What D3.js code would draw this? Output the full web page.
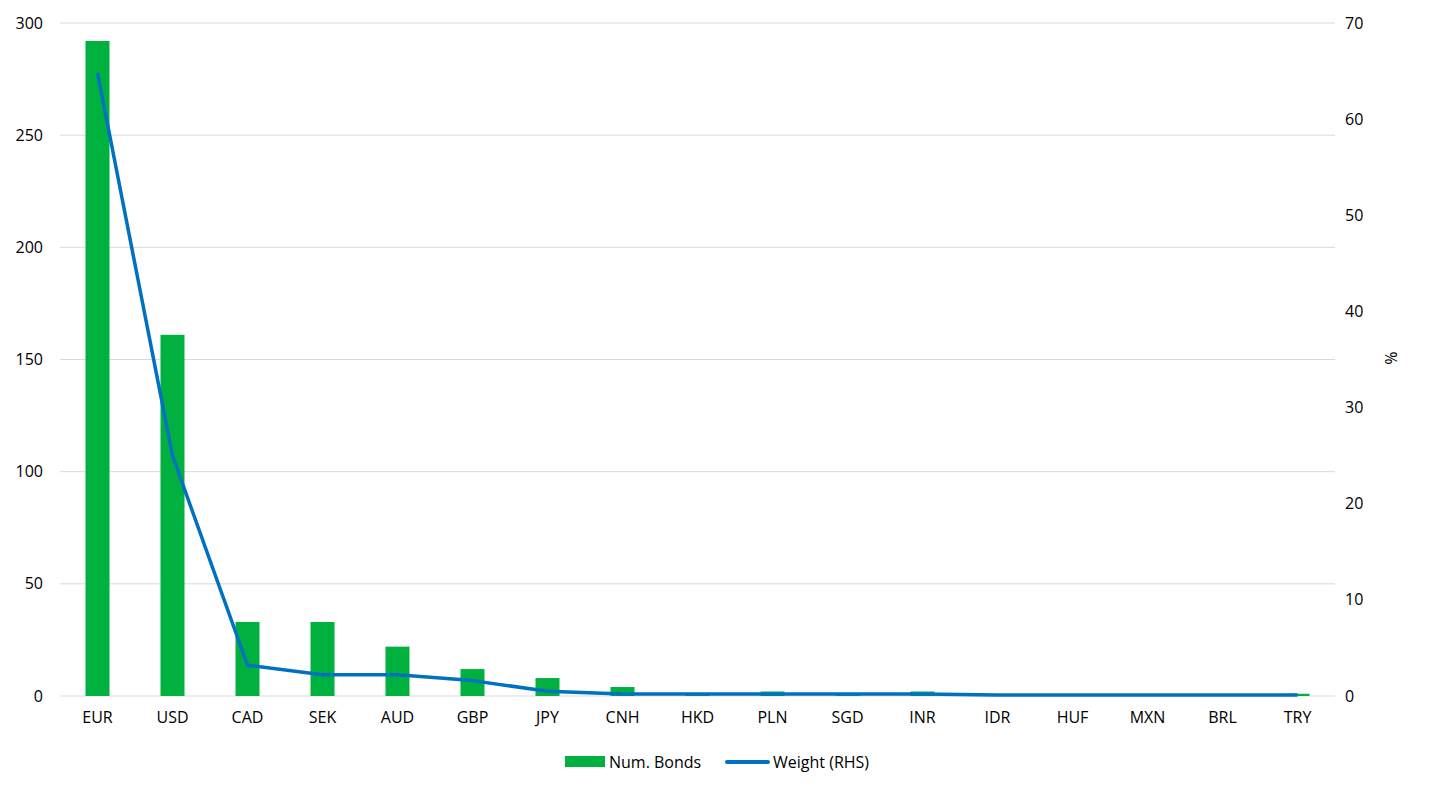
<!DOCTYPE html>
<html>
<head>
<meta charset="utf-8">
<script src="https://cdn.jsdelivr.net/npm/d3@7"></script>
<style>
body { margin: 0; background: #fff; }
text { font-family: "Open Sans", "Liberation Sans", sans-serif; fill: #000; }
</style>
</head>
<body>
<script>
// data
var currencies = ["EUR","USD","CAD","SEK","AUD","GBP","JPY","CNH","HKD","PLN","SGD","INR","IDR","HUF","MXN","BRL","TRY"];
var numBonds = [292,161,33,33,22,12,8,4,1,2,1,2,0,0,0,0,1];
var weightPct = [64.8,25.0,3.2,2.2,2.2,1.6,0.5,0.2,0.2,0.2,0.2,0.2,0.1,0.1,0.1,0.1,0.1];
var leftTicks = [0,50,100,150,200,250,300];
var rightTicks = [0,10,20,30,40,50,60,70];

var W = 1430, H = 793;
var margin = {top: 23, right: 95, bottom: 97, left: 60},
    width = W - margin.left - margin.right,
    height = H - margin.top - margin.bottom;

var svg = d3.select("body").append("svg")
    .attr("width", W)
    .attr("height", H);

var g = svg.append("g")
    .attr("transform", "translate(" + margin.left + "," + margin.top + ")");

var x = d3.scaleBand().domain(currencies).range([0, width]).paddingInner(0.68).paddingOuter(0.34);
var yL = d3.scaleLinear().domain([0, 300]).range([height, 0]);
var yR = d3.scaleLinear().domain([0, 70]).range([height, 0]);

// gridlines
g.selectAll(".grid").data(leftTicks).enter().append("line")
    .attr("x1", 0).attr("x2", width)
    .attr("y1", function(d){ return yL(d); })
    .attr("y2", function(d){ return yL(d); })
    .attr("stroke", "#d9d9d9").attr("stroke-width", 1);

// bars
g.selectAll(".bar").data(numBonds).enter().append("rect")
    .attr("x", function(d,i){ return x(currencies[i]); })
    .attr("width", x.bandwidth())
    .attr("y", function(d){ return yL(d); })
    .attr("height", function(d){ return height - yL(d); })
    .attr("fill", "#00b140");

// line
var line = d3.line()
    .x(function(d,i){ return x(currencies[i]) + x.bandwidth()/2; })
    .y(function(d){ return yR(d); });

g.append("path").datum(weightPct)
    .attr("d", line)
    .attr("fill", "none")
    .attr("stroke", "#0070c0")
    .attr("stroke-width", 3.5)
    .attr("stroke-linejoin", "round");

// axes
var axL = g.append("g").call(d3.axisLeft(yL).tickValues(leftTicks).tickSize(0).tickPadding(17));
axL.select(".domain").remove();
var axR = g.append("g").attr("transform", "translate(" + width + ",0)")
    .call(d3.axisRight(yR).tickValues(rightTicks).tickSize(0).tickPadding(10));
axR.select(".domain").remove();
var axB = g.append("g").attr("transform", "translate(0," + height + ")")
    .call(d3.axisBottom(x).tickSize(0).tickPadding(16));
axB.select(".domain").remove();
g.selectAll(".tick text").style("font-size", "16px").style("font-family", "'Open Sans', sans-serif");

// right label
svg.append("text")
    .attr("transform", "translate(1385,358) rotate(90)")
    .attr("text-anchor", "middle")
    .style("font-size", "16px")
    .text("%");

// legend
var leg = svg.append("g").attr("transform", "translate(565,762)");
leg.append("rect").attr("x", 0).attr("y", -6).attr("width", 40).attr("height", 11).attr("fill", "#00b140");
leg.append("text").attr("x", 44).attr("y", 6).style("font-size", "16px").text("Num. Bonds");
leg.append("line").attr("x1", 162).attr("x2", 203).attr("y1", 0).attr("y2", 0)
    .attr("stroke", "#0070c0").attr("stroke-width", 4).attr("stroke-linecap", "round");
leg.append("text").attr("x", 208).attr("y", 6).style("font-size", "16px").text("Weight (RHS)");
</script>
</body>
</html>
